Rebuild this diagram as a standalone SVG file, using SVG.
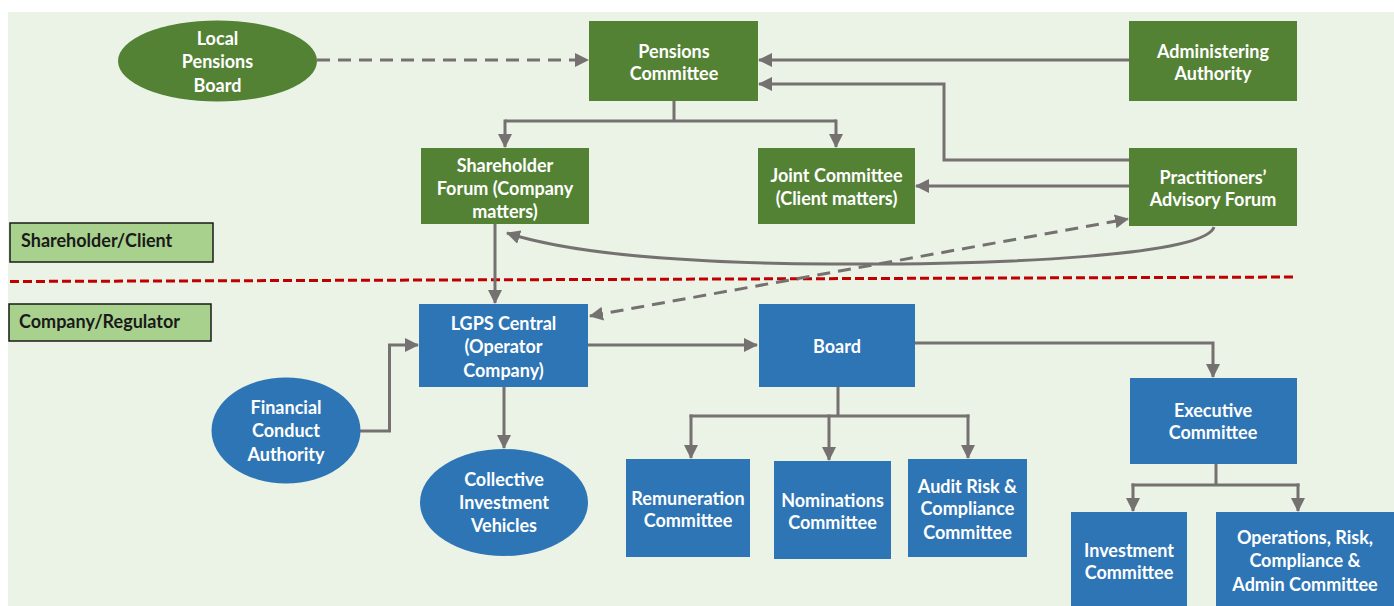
<svg xmlns="http://www.w3.org/2000/svg" width="1394" height="606" viewBox="0 0 1394 606">
<defs>
<style>
.g{fill:#548235;}
.b{fill:#2E75B6;}
.t{font-family:Lato,"Liberation Sans",sans-serif;font-weight:bold;font-size:18px;fill:#ffffff;text-anchor:middle;}
.lbl{fill:#A9D18E;stroke:#1a1a1a;stroke-width:1.5;}
.lt{font-family:Lato,"Liberation Sans",sans-serif;font-weight:bold;font-size:18px;fill:#1a1a1a;}
.c{fill:none;stroke:#767171;stroke-width:3;}
.d{stroke-dasharray:13 8;}
</style>
<marker id="ah" viewBox="0 0 14 14" markerWidth="14" markerHeight="14" refX="13" refY="7" markerUnits="userSpaceOnUse" orient="auto">
<path d="M0,0 L14,7 L0,14 z" fill="#767171"/>
</marker>
<marker id="ahs" viewBox="0 0 14 14" markerWidth="14" markerHeight="14" refX="1" refY="7" markerUnits="userSpaceOnUse" orient="auto">
<path d="M14,0 L0,7 L14,14 z" fill="#767171"/>
</marker>
</defs>
<rect x="8" y="12" width="1386" height="594" fill="#EBF2E6"/>

<g id="section-labels">
<rect class="lbl" x="10" y="223" width="203" height="39"/>
<text class="lt" x="21" y="247">Shareholder/Client</text>
<rect class="lbl" x="9" y="304" width="202" height="37"/>
<text class="lt" x="19" y="328">Company/Regulator</text>
<path d="M10,281.5 L1297,277" fill="none" stroke="#C00000" stroke-width="3" stroke-dasharray="9 4"/>
</g>

<g id="connectors">
<path class="c d" d="M317,60 L588,60" marker-end="url(#ah)"/>
<path class="c" d="M1129,60 L759,60" marker-end="url(#ah)"/>
<path class="c" d="M1129,160 L944,160 L944,84 L759,84" marker-end="url(#ah)"/>
<path class="c" d="M674,101 L674,121 M505,121 L836,121"/>
<path class="c" d="M505,119.5 L505,147" marker-end="url(#ah)"/>
<path class="c" d="M836,119.5 L836,147" marker-end="url(#ah)"/>
<path class="c" d="M1129,186 L916,186" marker-end="url(#ah)"/>
<path class="c" d="M1214,227 C1205,255 1010,265 830,264 C660,263 560,250 507,233" marker-end="url(#ah)"/>
<path class="c d" d="M590,316 L1128,219" marker-start="url(#ahs)" marker-end="url(#ah)"/>
<path class="c" d="M495,224 L495,303" marker-end="url(#ah)"/>
<path class="c" d="M360,431 L389.5,431 L389.5,345 L418,345" marker-end="url(#ah)"/>
<path class="c" d="M504,387 L504,448" marker-end="url(#ah)"/>
<path class="c" d="M588,345 L757,345" marker-end="url(#ah)"/>
<path class="c" d="M915,343 L1213,343 L1213,377" marker-end="url(#ah)"/>
<path class="c" d="M838,386 L838,416 M689.5,416 L969.5,416"/>
<path class="c" d="M691,414.5 L691,458" marker-end="url(#ah)"/>
<path class="c" d="M829,414.5 L829,460" marker-end="url(#ah)"/>
<path class="c" d="M968,414.5 L968,458" marker-end="url(#ah)"/>
<path class="c" d="M1216,464 L1216,485 M1131.5,485 L1299.5,485"/>
<path class="c" d="M1133,483.5 L1133,511" marker-end="url(#ah)"/>
<path class="c" d="M1298,483.5 L1298,511" marker-end="url(#ah)"/>
</g>

<g id="local-pensions-board">
<ellipse class="g" cx="217.5" cy="61" rx="99.5" ry="40.5"/>
<text class="t" x="217.5" y="45">Local</text>
<text class="t" x="217.5" y="68">Pensions</text>
<text class="t" x="217.5" y="92">Board</text>
</g>
<g id="pensions-committee">
<rect class="g" x="589" y="21" width="169" height="80"/>
<text class="t" x="674" y="58">Pensions</text>
<text class="t" x="674" y="80">Committee</text>
</g>
<g id="administering-authority">
<rect class="g" x="1129" y="21" width="168" height="80"/>
<text class="t" x="1213" y="58">Administering</text>
<text class="t" x="1213" y="80">Authority</text>
</g>
<g id="shareholder-forum">
<rect class="g" x="421" y="148" width="168" height="76"/>
<text class="t" x="505" y="172">Shareholder</text>
<text class="t" x="505" y="195">Forum (Company</text>
<text class="t" x="505" y="218">matters)</text>
</g>
<g id="joint-committee">
<rect class="g" x="758" y="148" width="157" height="76"/>
<text class="t" x="836.5" y="182">Joint Committee</text>
<text class="t" x="836.5" y="205">(Client matters)</text>
</g>
<g id="practitioners-advisory-forum">
<rect class="g" x="1129" y="148" width="168" height="78"/>
<text class="t" x="1213" y="184">Practitioners’</text>
<text class="t" x="1213" y="206">Advisory Forum</text>
</g>
<g id="lgps-central">
<rect class="b" x="419" y="304" width="169" height="83"/>
<text class="t" x="503.5" y="330">LGPS Central</text>
<text class="t" x="503.5" y="353">(Operator</text>
<text class="t" x="503.5" y="377">Company)</text>
</g>
<g id="financial-conduct-authority">
<ellipse class="b" cx="286" cy="430.5" rx="74.5" ry="53"/>
<text class="t" x="286" y="414">Financial</text>
<text class="t" x="286" y="437">Conduct</text>
<text class="t" x="286" y="461">Authority</text>
</g>
<g id="collective-investment-vehicles">
<ellipse class="b" cx="504" cy="502.5" rx="84" ry="53.5"/>
<text class="t" x="504" y="486">Collective</text>
<text class="t" x="504" y="509">Investment</text>
<text class="t" x="504" y="532">Vehicles</text>
</g>
<g id="board">
<rect class="b" x="759" y="304" width="156" height="83"/>
<text class="t" x="837" y="353">Board</text>
</g>
<g id="executive-committee">
<rect class="b" x="1130" y="378" width="167" height="86"/>
<text class="t" x="1213" y="417">Executive</text>
<text class="t" x="1213" y="439">Committee</text>
</g>
<g id="remuneration-committee">
<rect class="b" x="626" y="459" width="124" height="98"/>
<text class="t" x="688" y="505">Remuneration</text>
<text class="t" x="688" y="527">Committee</text>
</g>
<g id="nominations-committee">
<rect class="b" x="774" y="461" width="117" height="98"/>
<text class="t" x="832.5" y="507">Nominations</text>
<text class="t" x="832.5" y="529">Committee</text>
</g>
<g id="audit-risk-compliance-committee">
<rect class="b" x="908" y="459" width="119" height="98"/>
<text class="t" x="967.5" y="493">Audit Risk &amp;</text>
<text class="t" x="967.5" y="515">Compliance</text>
<text class="t" x="967.5" y="539">Committee</text>
</g>
<g id="investment-committee">
<rect class="b" x="1071" y="512" width="116" height="94"/>
<text class="t" x="1129" y="557">Investment</text>
<text class="t" x="1129" y="579">Committee</text>
</g>
<g id="operations-risk-compliance-admin-committee">
<rect class="b" x="1216" y="512" width="178" height="94"/>
<text class="t" x="1305" y="544">Operations, Risk,</text>
<text class="t" x="1305" y="567">Compliance &amp;</text>
<text class="t" x="1305" y="591">Admin Committee</text>
</g>
</svg>
